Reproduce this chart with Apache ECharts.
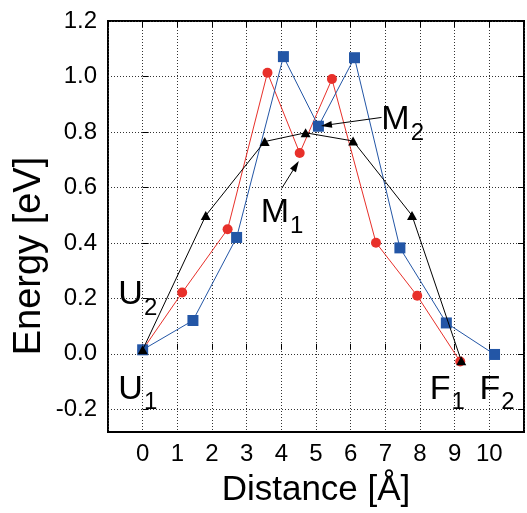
<!DOCTYPE html>
<html>
<head>
<meta charset="utf-8">
<script src="https://cdn.jsdelivr.net/npm/echarts@6/dist/echarts.min.js"></script>
<style>
  html, body { margin: 0; padding: 0; background: #fff; }
  #chart { width: 527px; height: 513px; }
</style>
</head>
<body>
<div id="chart"></div>
<script>
/* data */
const redX = [0, 1.14, 2.45, 3.60, 4.53, 5.46, 6.73, 7.92, 9.16];
const redY = [0, 0.209, 0.44, 1.011, 0.718, 0.988, 0.391, 0.197, -0.043];
const blueX = [0, 1.45, 2.71, 4.06, 5.07, 6.11, 7.42, 8.76, 10.15];
const blueY = [0, 0.107, 0.41, 1.07, 0.816, 1.066, 0.372, 0.098, -0.017];
const blackX = [0, 1.82, 3.52, 4.70, 6.07, 7.77, 9.19];
const blackY = [0, 0.49, 0.76, 0.792, 0.762, 0.49, -0.04];

// state labels: name, subscript, x, y
const labelMain = ['M', 'M', 'U', 'U', 'F', 'F'];
const labelSub = ['2', '1', '2', '1', '1', '2'];
const labelX = [7.5, 4.02, -0.14, -0.14, 8.79, 10.22];
const labelY = [0.84, 0.50, 0.20, -0.144, -0.144, -0.144];

// arrows pointing from a label to a point: [fromX, fromY, toX, toY]
const arrowM2 = [6.89, 0.848, 5.30, 0.82];
const arrowM1 = [4.01, 0.589, 4.42, 0.672];

const FONT = 'Liberation Sans';

const zip = (xs, ys) => xs.map((x, i) => [x, ys[i]]);

const chart = echarts.init(document.getElementById('chart'));

const tickStyle = { show: true, inside: true, length: 6, lineStyle: { color: '#000', width: 1 } };
const dotted = { show: true, lineStyle: { color: '#333', width: 1, type: [1, 2] } };

chart.setOption({
  animation: false,
  backgroundColor: '#fff',
  grid: [
    // data area / frame: x -1..11, y -0.3..1.2
    { left: 108, right: 3, top: 21, bottom: 76, show: true, borderColor: '#000', borderWidth: 2, backgroundColor: 'transparent' },
    // helper grid for the y ticks (-0.2..1.2)
    { left: 108, right: 3, top: 21, bottom: 103.7 }
  ],
  xAxis: [
    {
      gridIndex: 0, type: 'value', min: -1, max: 11, interval: 1,
      name: 'Distance [Å]', nameLocation: 'middle', nameGap: 41,
      nameTextStyle: { fontFamily: FONT, fontSize: 35, color: '#000' },
      axisLine: { show: false },
      axisTick: tickStyle,
      axisLabel: {
        margin: 10, fontFamily: FONT, fontSize: 24, color: '#000',
        formatter: v => (v < 0 || v > 10) ? '' : String(v)
      },
      splitLine: dotted
    },
    {
      gridIndex: 0, type: 'value', position: 'top', min: -1, max: 11, interval: 1,
      axisLine: { show: false }, axisTick: tickStyle, axisLabel: { show: false }, splitLine: { show: false }
    },
    {
      gridIndex: 1, type: 'value', min: -1, max: 11, show: false
    }
  ],
  yAxis: [
    { gridIndex: 0, type: 'value', min: -0.3, max: 1.2, show: false },
    {
      gridIndex: 1, type: 'value', min: -0.2, max: 1.2, interval: 0.2,
      axisLine: { show: false },
      axisTick: tickStyle,
      axisLabel: {
        margin: 11, fontFamily: FONT, fontSize: 24, color: '#000',
        formatter: v => v.toFixed(1)
      },
      splitLine: dotted
    },
    {
      gridIndex: 1, type: 'value', position: 'right', min: -0.2, max: 1.2, interval: 0.2,
      axisLine: { show: false }, axisTick: tickStyle, axisLabel: { show: false }, splitLine: { show: false }
    }
  ],
  graphic: [
    {
      type: 'text', x: 30, y: 256, rotation: Math.PI / 2,
      style: {
        text: 'Energy [eV]', fontFamily: FONT, fontSize: 38, fill: '#000',
        align: 'center', verticalAlign: 'middle'
      }
    }
  ],
  series: [
    {
      type: 'line', xAxisIndex: 0, yAxisIndex: 0,
      data: zip(redX, redY),
      symbol: 'circle', symbolSize: 10,
      lineStyle: { color: '#e8302a', width: 1 },
      itemStyle: { color: '#e8302a' },
      z: 3
    },
    {
      type: 'line', xAxisIndex: 0, yAxisIndex: 0,
      data: zip(blueX, blueY),
      symbol: 'rect', symbolSize: 11,
      lineStyle: { color: '#2356a6', width: 1 },
      itemStyle: { color: '#2356a6' },
      z: 4
    },
    {
      type: 'line', xAxisIndex: 0, yAxisIndex: 0,
      data: zip(blackX, blackY),
      symbol: 'triangle', symbolSize: [10, 9],
      lineStyle: { color: '#000', width: 1 },
      itemStyle: { color: '#000' },
      z: 5,
      markLine: {
        silent: true,
        symbol: ['none', 'triangle'],
        symbolSize: [7, 11],
        label: { show: false },
        lineStyle: { color: '#000', width: 1, type: 'solid' },
        data: [arrowM2, arrowM1].map(a => [
          { coord: [a[0], a[1]] },
          { coord: [a[2], a[3]] }
        ])
      }
    },
    {
      type: 'scatter', xAxisIndex: 0, yAxisIndex: 0,
      symbolSize: 0, silent: true, z: 6,
      itemStyle: { color: '#000', opacity: 1 },
      data: labelX.map((x, i) => ({ value: [x, labelY[i]], main: labelMain[i], sub: labelSub[i] })),
      label: {
        show: true, position: 'inside', color: '#000', opacity: 1, textBorderWidth: 0,
        formatter: p => `{a|${p.data.main}}{b|${p.data.sub}}`,
        rich: {
          a: { fontFamily: FONT, fontSize: 34, lineHeight: 34, color: '#000', textBorderWidth: 0 },
          b: { fontFamily: FONT, fontSize: 24, lineHeight: 24, color: '#000', textBorderWidth: 0, padding: [27, 0, 0, 1] }
        }
      }
    }
  ]
});
</script>
</body>
</html>
